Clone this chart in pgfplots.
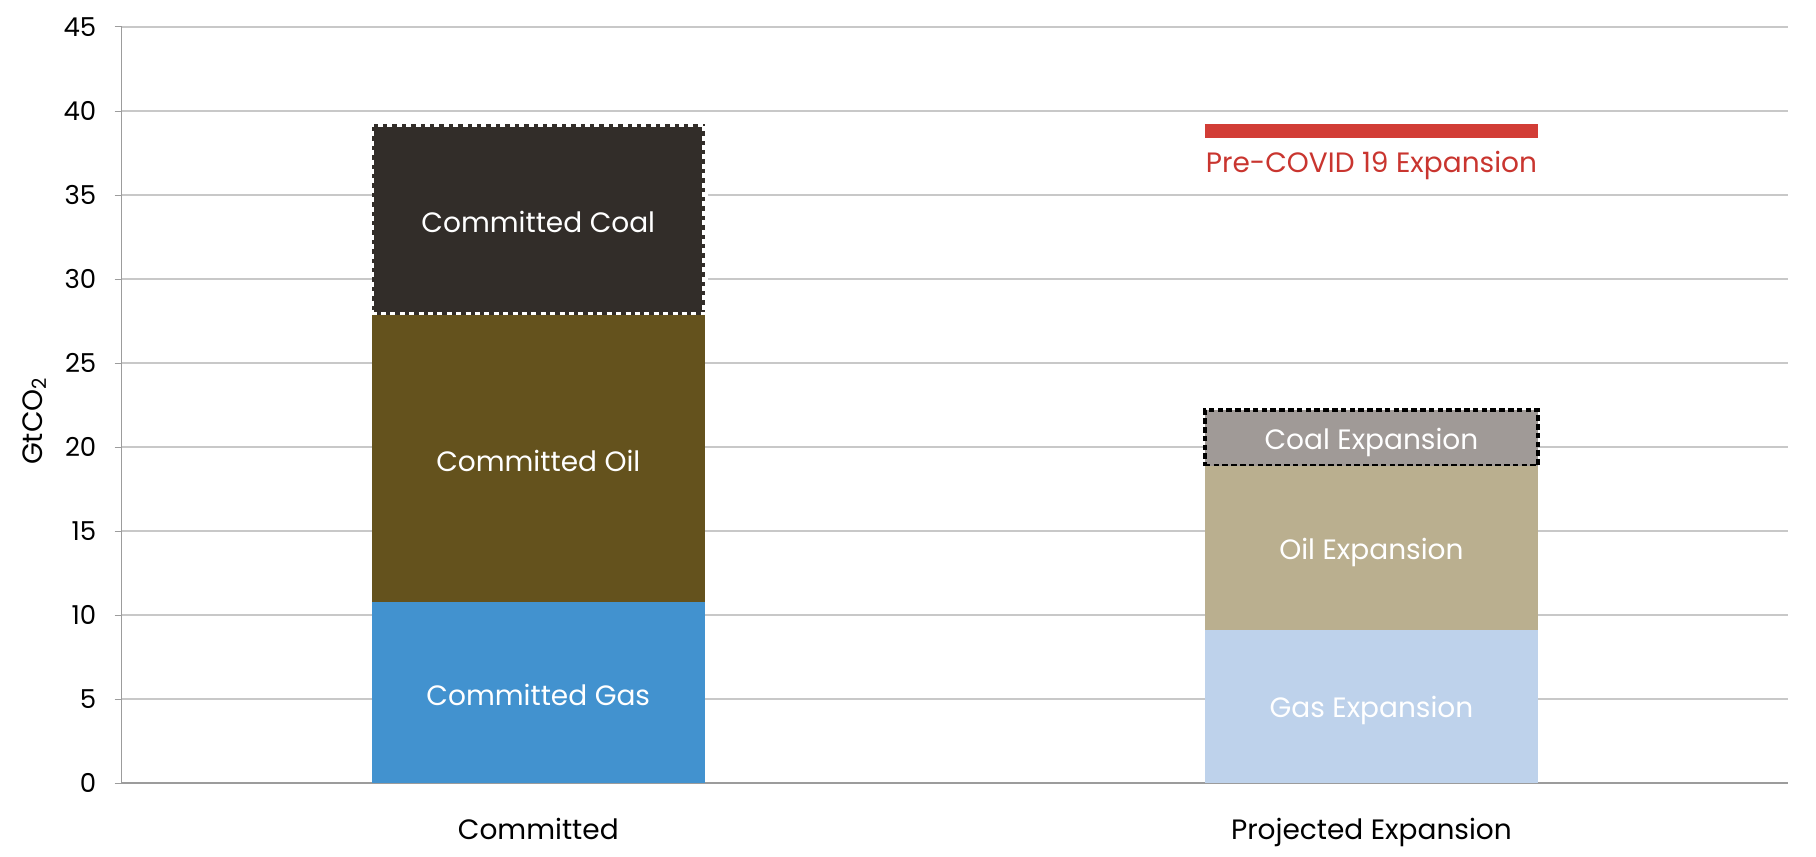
\documentclass[border=0pt]{standalone}
\usepackage{fontspec}
\setmainfont{Poppins}
\usepackage{pgfplots}
\pgfplotsset{compat=1.18}
\definecolor{cgas}{HTML}{4292CF}
\definecolor{coil}{HTML}{64521D}
\definecolor{ccoal}{HTML}{322D29}
\definecolor{egas}{HTML}{BED2EB}
\definecolor{eoil}{HTML}{BAAF8F}
\definecolor{ecoal}{HTML}{A09A97}
\definecolor{covred}{HTML}{D23D36}
\definecolor{covtext}{HTML}{C9352F}
\definecolor{gridc}{HTML}{C8C8C8}
\definecolor{axc}{HTML}{9C9C9C}
\newcommand\lbl{\fontsize{14}{16}\selectfont}
\pgfplotsset{
  common/.style={
    at={(0pt,0pt)}, anchor=south west,
    scale only axis, width=833pt, height=378pt,
    xmin=-0.5, xmax=1.5, ymin=0, ymax=45,
    ybar stacked, bar width=0.4,
  }
}
\begin{document}
\begin{tikzpicture}
\begin{axis}[
  common,
  axis x line*=bottom, axis y line*=left,
  xtick={0,1}, xticklabels={Committed, Projected Expansion},
  ytick={0,5,...,45},
  ymajorgrids, grid style={draw=gridc, line width=0.65pt},
  x axis line style={draw=axc, line width=0.8pt},
  y axis line style={draw=axc, line width=0.5pt},
  tick align=outside, major tick length=3.5pt,
  ytick style={draw=axc, line width=0.5pt},
  xtick style={draw=none},
  /pgf/number format/assume math mode=true,
  yticklabel style={font=\fontsize{13}{15}\selectfont, text=black, inner sep=0pt, anchor=east, xshift=-9pt},
  xticklabel style={font=\lbl, text=black, anchor=base, inner sep=0pt, yshift=-24.5pt},
  ylabel={GtCO\textsubscript{2}},
  ylabel style={font=\lbl, text=black, at={(axis description cs:-0.0478,0.479)}, anchor=base},
]
\addplot[fill=cgas, draw=none] coordinates {(0,10.77)};
\addplot[fill=coil, draw=none] coordinates {(0,17.09)};
\addplot[fill=ccoal, draw=white, dash pattern=on 2.5pt off 2.2pt, line width=2.6pt] coordinates {(0,11.37)};
\end{axis}
\begin{axis}[common, hide axis]
\addplot[fill=egas, draw=none] coordinates {(1,9.10)};
\addplot[fill=eoil, draw=none] coordinates {(1,9.77)};
\addplot[fill=ecoal, draw=black, dash pattern=on 2.8pt off 1.6pt, line width=1.7pt] coordinates {(1,3.33)};
\end{axis}
\begin{axis}[
  at={(0pt,0pt)}, anchor=south west,
  scale only axis, width=833pt, height=378pt,
  xmin=-0.5, xmax=1.5, ymin=0, ymax=45, hide axis]
\addplot[draw=covred, line width=7pt, line cap=butt, mark=none] coordinates {(0.8,38.8) (1.2,38.8)};
\node[text=covtext, font=\lbl, anchor=base] at (axis cs:1,36.37) {Pre-COVID 19 Expansion};
\node[text=white, font=\lbl, yshift=-1pt] at (axis cs:0,5.385) {Committed Gas};
\node[text=white, font=\lbl, yshift=-1pt] at (axis cs:0,19.315) {Committed Oil};
\node[text=white, font=\lbl, yshift=-1pt] at (axis cs:0,33.545) {Committed Coal};
\node[text=white, font=\lbl, yshift=-2pt] at (axis cs:1,4.55) {Gas Expansion};
\node[text=white, font=\lbl, yshift=-2pt] at (axis cs:1,13.985) {Oil Expansion};
\node[text=white, font=\lbl, yshift=-2pt] at (axis cs:1,20.535) {Coal Expansion};
\end{axis}
\pgfresetboundingbox
\path[use as bounding box] (-60.85pt,-36.5pt) rectangle (847pt,391.5pt);
\end{tikzpicture}
\end{document}
